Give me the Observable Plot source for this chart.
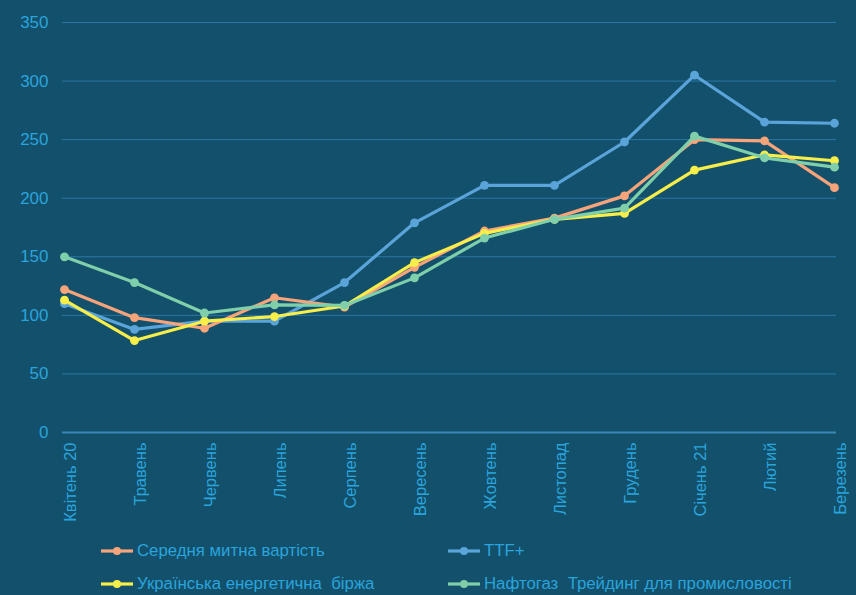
<!DOCTYPE html>
<html>
<head>
<meta charset="utf-8">
<script src="https://cdn.jsdelivr.net/npm/d3@7"></script>
<script src="https://cdn.jsdelivr.net/npm/@observablehq/plot@0.6"></script>
<style>
  html, body { margin: 0; padding: 0; background: #13506b; }
  body { width: 856px; height: 595px; overflow: hidden; position: relative; font-family: "Liberation Sans", Arial, sans-serif; }
  #legend { position: absolute; left: 0; top: 535px; width: 856px; height: 60px; }
  .item { position: absolute; display: flex; align-items: center; color: #2aa4dc; font-size: 16.8px; white-space: pre; }
  .item svg { margin-right: 3px; }
</style>
</head>
<body>
<div id="chart"></div>
<div id="legend"></div>
<script>
const months = ["Квітень 20","Травень","Червень","Липень","Серпень","Вересень","Жовтень","Листопад","Грудень","Січень 21","Лютий","Березень"];
const seriesNames = ["Середня митна вартість","TTF+","Українська енергетична  біржа","Нафтогаз  Трейдинг для промисловості"];
const customs = [122, 98, 89, 115, 107, 141, 172, 183, 202, 250, 249, 209];
const ttf = [110, 88, 95, 95, 128, 179, 211, 211, 248, 305, 265, 264];
const ueb = [113, 78.5, 95, 99, 108, 145, 170, 182, 187, 224, 237, 232];
const naftogaz = [150, 128, 102, 109, 108.5, 132, 166, 182, 191.5, 253, 234.5, 226.5];
const yTicks = [0, 50, 100, 150, 200, 250, 300, 350];
const colors = ["#f7a47b", "#5ba4da", "#f8ee4a", "#7fcfab"];

const valuesBySeries = [customs, ttf, ueb, naftogaz];
const data = [];
valuesBySeries.forEach((vals, si) => vals.forEach((v, i) => data.push({series: seriesNames[si], month: months[i], value: v})));

const drawOrder = [seriesNames[1], seriesNames[0], seriesNames[2], seriesNames[3]];

const marks = [
  Plot.ruleY(yTicks.filter(d => d > 0), {stroke: "#2a78a6", strokeWidth: 1}),
  Plot.ruleY([0], {stroke: "#3a86b6", strokeWidth: 2}),
  Plot.axisY({ticks: yTicks, tickSize: 0, tickPadding: 14, fontSize: 17, fill: "#2aa4dc", label: null}),
  Plot.axisX({tickSize: 0, tickPadding: 10, rotate: -90, textAnchor: "end", fontSize: 16.5, fill: "#2aa4dc", label: null})
];
for (const name of drawOrder) {
  const d = data.filter(r => r.series === name);
  marks.push(Plot.line(d, {x: "month", y: "value", stroke: colors[seriesNames.indexOf(name)], strokeWidth: 3.2}));
  marks.push(Plot.dot(d, {x: "month", y: "value", fill: colors[seriesNames.indexOf(name)], r: 4.4}));
}

const chart = Plot.plot({
  width: 856,
  height: 535,
  marginLeft: 62,
  marginRight: 20,
  marginTop: 22,
  marginBottom: 103,
  style: {background: "#13506b", fontFamily: "Liberation Sans, Arial, sans-serif"},
  x: {type: "point", domain: months, padding: 0},
  y: {domain: [0, 350]},
  marks
});
document.getElementById("chart").appendChild(chart);

const legendPos = [[100, 16], [447, 16], [100, 49], [447, 49]];
const legend = document.getElementById("legend");
seriesNames.forEach((name, i) => {
  const div = document.createElement("div");
  div.className = "item";
  div.style.left = legendPos[i][0] + "px";
  div.style.top = (legendPos[i][1] - 10) + "px";
  div.innerHTML = `<svg width="34" height="20"><line x1="1" y1="10" x2="33" y2="10" stroke="${colors[i]}" stroke-width="3.2"/><circle cx="17" cy="10" r="4" fill="${colors[i]}"/></svg><span>${name}</span>`;
  legend.appendChild(div);
});
</script>
</body>
</html>
